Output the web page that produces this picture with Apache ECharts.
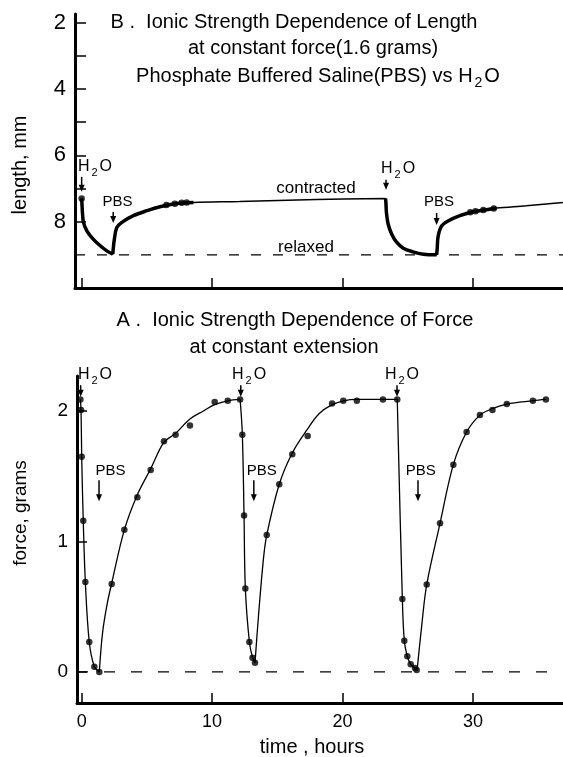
<!DOCTYPE html>
<html><head><meta charset="utf-8">
<script src="https://cdn.jsdelivr.net/npm/echarts@6/dist/echarts.min.js"></script>
<style>html,body{margin:0;padding:0;background:#fff}#c{width:563px;height:757px}</style>
</head><body><div id="c"></div><script>
const FONT = 'Liberation Sans';
// ---------- axes ----------
const timeMinB = -0.51, timeMinA = -0.36, timeMax = 36.91;
const lenMin = 1.74, lenMax = 10;
const forceMin = -0.238, forceMax = 2.27;
const timeTicks = [0, 10, 20, 30];
const timeLabels = [0, 10, 20, 30];
const lenTicks = [2, 3, 4, 5, 6, 7, 8];
const lenLabels = [2, 4, 6, 8];
const forceTicks = [0, 1, 2];
const forceLabels = [0, 1, 2];

// ---------- Panel B: length (mm) vs time (h), null = break ----------
const lenCurveT = [0, 0.03, 0.06, 0.14, 0.4, 0.78, 1.29, 1.93, 2.39, null,
  2.39, 2.42, 2.49, 2.69, 3.08, 3.97, 5.0, 6.0, 7.3, 8.57, 12.1, 18, 23.3, null,
  23.3, 23.33, 23.37, 23.5, 23.77, 24.15, 24.66, 25.4, 26.2, 27.22, null,
  27.22, 27.26, 27.34, 27.6, 28.1, 29.0, 30.0, 31.05, 31.8, 34.1, 36.9];
const lenCurveV = [7.3, 7.5, 7.72, 8.02, 8.28, 8.48, 8.68, 8.88, 8.98, null,
  8.98, 8.83, 8.58, 8.18, 8.02, 7.82, 7.67, 7.55, 7.45, 7.42, 7.39, 7.33, 7.3, null,
  7.3, 7.42, 7.72, 8.07, 8.37, 8.62, 8.8, 8.91, 8.98, 9.0, null,
  9.0, 8.83, 8.43, 8.13, 7.98, 7.82, 7.70, 7.64, 7.59, 7.52, 7.42];
const lenThickRanges = [[0, 8.6], [23.3, 31.8]];
const lenBeadT = [0, 6.5, 7.15, 7.67, 8.05, 29.8, 30.2, 30.8, 31.6];
const lenBeadV = [7.3, 7.5, 7.46, 7.43, 7.42, 7.72, 7.69, 7.65, 7.6];
const relaxedLength = 9.0;

// ---------- Panel A: force (g) vs time (h) ----------
const forceFitT = [-0.1, -0.05, 0.0, 0.12, 0.28, 0.58, 0.97, 1.35, null,
  1.35, 1.6, 1.95, 2.3, 3.27, 4.27, 5.3, 6.3, 7.2, 8.3, 9.3, 10.2, 11.2, 12.15, null,
  12.15, 12.32, 12.45, 12.55, 12.86, 13.1, 13.29, null,
  13.29, 13.55, 13.93, 14.19, 15.15, 16.15, 17.3, 18.2, 19.2, 20.1, 21.1, 23.1, 24.2, null,
  24.2, 24.59, 24.74, 24.97, 25.23, 25.56, 25.72, null,
  25.72, 26.07, 26.46, 27.48, 28.5, 29.52, 30.54, 31.5, 32.6, 34.6, 35.6];
const forceFitF = [2.09, 2.01, 1.65, 1.16, 0.69, 0.23, 0.04, 0.0, null,
  0.0, 0.3, 0.52, 0.68, 1.09, 1.36, 1.56, 1.76, 1.83, 1.94, 2.0, 2.05, 2.08, 2.09, null,
  2.09, 1.82, 1.2, 0.64, 0.23, 0.11, 0.07, null,
  0.07, 0.42, 0.86, 1.05, 1.44, 1.68, 1.86, 1.98, 2.05, 2.08, 2.09, 2.09, 2.09, null,
  2.09, 0.56, 0.24, 0.12, 0.06, 0.03, 0.01, null,
  0.01, 0.35, 0.67, 1.14, 1.59, 1.84, 1.97, 2.02, 2.055, 2.08, 2.09];
const forceDotT = [-0.1, -0.05, 0.0, 0.12, 0.28, 0.58, 0.97, 1.35, 2.3, 3.27, 4.27, 5.29, 6.31, 7.2, 8.3, 10.2, 11.2, 12.15,
  12.32, 12.45, 12.55, 12.86, 13.1, 13.29, 14.19, 15.15, 16.15, 17.33, 19.2, 20.06, 21.1, 23.1, 24.2,
  24.59, 24.74, 24.97, 25.23, 25.56, 25.69, 26.46, 27.48, 28.5, 29.52, 30.54, 31.5, 32.6, 34.6, 35.6];
const forceDotF = [2.09, 2.01, 1.65, 1.16, 0.69, 0.23, 0.04, 0.0, 0.675, 1.09, 1.34, 1.55, 1.77, 1.82, 1.89, 2.07, 2.08, 2.09,
  1.82, 1.2, 0.64, 0.23, 0.11, 0.07, 1.05, 1.44, 1.67, 1.81, 2.06, 2.08, 2.08, 2.09, 2.09,
  0.56, 0.24, 0.12, 0.06, 0.03, 0.015, 0.67, 1.14, 1.59, 1.84, 1.97, 2.01, 2.055, 2.08, 2.09];
const forceBaseline = 0;

// ---------- annotations (data coords) ----------
const bNoteText = ['H2O', 'PBS', 'contracted', 'relaxed', 'H2O', 'PBS'];
const bNoteT = [1.02, 2.75, 17.97, 17.2, 24.26, 27.4];
const bNoteV = [6.35, 7.41, 6.98, 8.76, 6.41, 7.41];
const bArrowT = [0, 2.42, 23.34, 27.22];
const bArrowFrom = [6.65, 7.71, 6.74, 7.74];
const bArrowTo = [7.1, 8.04, 7.04, 8.1];
const aNoteText = ['H2O', 'H2O', 'H2O', 'PBS', 'PBS', 'PBS'];
const aNoteT = [1.02, 12.84, 24.56, 2.21, 13.8, 26.0];
const aNoteF = [2.28, 2.28, 2.28, 1.54, 1.54, 1.54];
const aArrowT = [-0.08, 12.2, 24.18, 1.33, 13.2, 25.79];
const aArrowFrom = [2.2, 2.2, 2.2, 1.47, 1.47, 1.47];
const aArrowTo = [2.11, 2.11, 2.11, 1.31, 1.31, 1.31];

function pairs(T, V) { return T.map((t, i) => t === null ? ['-', '-'] : [t, V[i]]); }
const thickData = lenCurveT.map((t, i) => (t !== null && lenThickRanges.some(r => t >= r[0] - 1e-9 && t <= r[1] + 1e-9)) ? [t, lenCurveV[i]] : ['-', '-']);

const chart = echarts.init(document.getElementById('c'));
const axisLine = { show: true, onZero: false, lineStyle: { color: '#000', width: 3 } };
const tickStyle = { color: '#000', width: 1.5 };
const lbl = (size, extra) => Object.assign({ color: '#000', fontFamily: FONT, fontSize: size }, extra);

chart.setOption({
  animation: false,
  backgroundColor: '#fff',
  grid: [{ left: 75, top: 14, width: 488, height: 274 }, { left: 77, top: 376, width: 486, height: 327 }],
  xAxis: [
    { gridIndex: 0, type: 'value', min: timeMinB, max: timeMax, axisLine: axisLine, splitLine: { show: false },
      axisTick: { show: true, inside: true, length: 10, lineStyle: tickStyle, customValues: timeTicks },
      axisLabel: { show: false } },
    { gridIndex: 1, type: 'value', min: timeMinA, max: timeMax, axisLine: axisLine, splitLine: { show: false },
      axisTick: { show: true, inside: true, length: 10, lineStyle: tickStyle, customValues: timeTicks },
      axisLabel: lbl(18, { margin: 10, customValues: timeLabels }) }
  ],
  yAxis: [
    { gridIndex: 0, type: 'value', inverse: true, min: lenMin, max: lenMax, axisLine: axisLine, splitLine: { show: false },
      axisTick: { show: true, inside: true, length: 11, lineStyle: tickStyle, customValues: lenTicks },
      axisLabel: lbl(22, { margin: 9, customValues: lenLabels }) },
    { gridIndex: 1, type: 'value', min: forceMin, max: forceMax, axisLine: axisLine, splitLine: { show: false },
      axisTick: { show: true, inside: true, length: 10, lineStyle: tickStyle, customValues: forceTicks },
      axisLabel: lbl(19, { margin: 9, customValues: forceLabels }) }
  ],
  series: [
    { type: 'line', xAxisIndex: 0, yAxisIndex: 0, data: [[timeMinB, relaxedLength], [timeMax, relaxedLength]], symbol: 'none',
      lineStyle: { color: '#000', width: 1.3, type: [10, 12] }, silent: true },
    { type: 'line', xAxisIndex: 0, yAxisIndex: 0, data: pairs(lenCurveT, lenCurveV), smooth: 0.35, connectNulls: false,
      symbol: 'none', lineStyle: { color: '#000', width: 1.5 } },
    { type: 'line', xAxisIndex: 0, yAxisIndex: 0, data: thickData, smooth: 0.35, connectNulls: false,
      symbol: 'none', lineStyle: { color: '#000', width: 3.5 } },
    { type: 'scatter', xAxisIndex: 0, yAxisIndex: 0, data: pairs(lenBeadT, lenBeadV), symbolSize: 6.5,
      itemStyle: { color: '#000' } },
    { type: 'line', xAxisIndex: 1, yAxisIndex: 1, data: [[timeMinA, forceBaseline], [timeMax, forceBaseline]], symbol: 'none',
      lineStyle: { color: '#000', width: 1.3, type: [11, 16] }, silent: true },
    { type: 'line', xAxisIndex: 1, yAxisIndex: 1, data: pairs(forceFitT, forceFitF), smooth: 0.35, connectNulls: false,
      symbol: 'none', lineStyle: { color: '#000', width: 1.3 } },
    { type: 'scatter', xAxisIndex: 1, yAxisIndex: 1, data: pairs(forceDotT, forceDotF), symbolSize: 6.5,
      itemStyle: { color: '#000' } }
  ]
});

// ---------- graphic: titles, axis names, notes, arrows ----------
const subRich = (size) => ({ m: { fontSize: size, fontFamily: FONT, fill: '#000' }, s: { fontSize: Math.round(size * 0.7), fontFamily: FONT, fill: '#000', padding: [Math.round(size * 0.75), 2, 0, 2] } });
function textEl(str, x, y, size, rot) {
  const hasSub = str.indexOf('H2O') >= 0;
  let t = str;
  if (hasSub) {
    const parts = str.split('H2O');
    t = (parts[0] ? '{m|' + parts[0] + '}' : '') + '{m|H}{s|2}{m|O}' + (parts[1] ? '{m|' + parts[1] + '}' : '');
  }
  const el = { type: 'text', x: x, y: y, silent: true,
    style: { text: t, fontSize: size, fontFamily: FONT, fill: '#000', align: 'center', verticalAlign: 'middle' } };
  if (hasSub) el.style.rich = subRich(size);
  if (rot) el.rotation = rot;
  return el;
}
function arrowEls(p1, p2) {
  return [
    { type: 'line', silent: true, shape: { x1: p1[0], y1: p1[1], x2: p2[0], y2: p2[1] - 4 }, style: { stroke: '#000', lineWidth: 1.5 } },
    { type: 'polygon', silent: true, shape: { points: [[p2[0] - 3, p2[1] - 7], [p2[0] + 3, p2[1] - 7], [p2[0], p2[1]]] }, style: { fill: '#000' } }
  ];
}
const g = [];
g.push(textEl('B .  Ionic Strength Dependence of Length', 294, 22, 20));
g.push(textEl('at constant force(1.6 grams)', 313, 48, 20));
g.push(textEl('Phosphate Buffered Saline(PBS) vs H2O', 318, 76, 20));
g.push(textEl('A .  Ionic Strength Dependence of Force', 295, 320, 20));
g.push(textEl('at constant extension', 284, 347, 20));
g.push(textEl('length, mm', 20, 165, 20, Math.PI / 2));
g.push(textEl('force, grams', 21, 513, 19, Math.PI / 2));
g.push(textEl('time , hours', 312, 747, 20));
const noteSizes = { 'H2O': 16, 'PBS': 15, 'contracted': 17, 'relaxed': 17 };
bNoteText.forEach((s, i) => { const p = chart.convertToPixel({ gridIndex: 0 }, [bNoteT[i], bNoteV[i]]); g.push(textEl(s, p[0], p[1], noteSizes[s])); });
bArrowT.forEach((t, i) => { g.push(...arrowEls(chart.convertToPixel({ gridIndex: 0 }, [t, bArrowFrom[i]]), chart.convertToPixel({ gridIndex: 0 }, [t, bArrowTo[i]]))); });
aNoteText.forEach((s, i) => { const p = chart.convertToPixel({ gridIndex: 1 }, [aNoteT[i], aNoteF[i]]); g.push(textEl(s, p[0], p[1], noteSizes[s])); });
aArrowT.forEach((t, i) => { g.push(...arrowEls(chart.convertToPixel({ gridIndex: 1 }, [t, aArrowFrom[i]]), chart.convertToPixel({ gridIndex: 1 }, [t, aArrowTo[i]]))); });
chart.setOption({ graphic: g });
</script></body></html>
